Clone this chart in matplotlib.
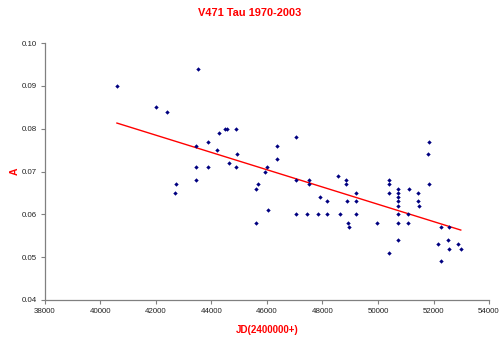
import numpy as np
import matplotlib
matplotlib.use("Agg")
import matplotlib.pyplot as plt

plt.rcParams['font.family'] = ['Liberation Sans', 'DejaVu Sans']

jd = [40595, 42011, 42386, 43514, 43453, 43875, 44188, 44271, 44487, 44570,
      44884, 44920, 44642, 43453, 43875, 43453, 42721, 42700, 44884,
      46350, 46350, 47057, 45929, 45990, 45688, 45616, 46025, 45616,
      47057, 47526, 47526, 47057, 47442, 47827, 48174, 48643, 49220,
      47911, 48174, 48549, 48859, 48859, 48873, 49220, 49220, 48931, 48967,
      51850, 51803, 51850, 50387, 50387, 50387, 50712, 50712, 50712, 50712,
      50712, 50712, 50712, 50712, 51118, 51454, 51454, 51479, 51082, 51082,
      49954, 50387, 52283, 52549, 52535, 52163, 52549, 52885, 52982, 52283]
amp = [0.090, 0.085, 0.084, 0.094, 0.076, 0.077, 0.075, 0.079, 0.080, 0.080,
       0.080, 0.074, 0.072, 0.071, 0.071, 0.068, 0.067, 0.065, 0.071,
       0.076, 0.073, 0.078, 0.070, 0.071, 0.067, 0.066, 0.061, 0.058,
       0.068, 0.068, 0.067, 0.060, 0.060, 0.060, 0.060, 0.060, 0.060,
       0.064, 0.063, 0.069, 0.068, 0.067, 0.063, 0.065, 0.063, 0.058, 0.057,
       0.077, 0.074, 0.067, 0.068, 0.067, 0.065, 0.066, 0.065, 0.064, 0.063,
       0.062, 0.060, 0.058, 0.054, 0.066, 0.065, 0.063, 0.062, 0.060, 0.058,
       0.058, 0.051, 0.057, 0.057, 0.054, 0.053, 0.052, 0.053, 0.052, 0.049]

xticks = [38000, 40000, 42000, 44000, 46000, 48000, 50000, 52000, 54000]
yticks = [0.04, 0.05, 0.06, 0.07, 0.08, 0.09, 0.10]

jd_a = np.array(jd, dtype=float)
amp_a = np.array(amp)
slope, icpt = np.polyfit(jd_a, amp_a, 1)
xl = np.array([jd_a.min(), jd_a.max()])

fig = plt.figure(figsize=(4.99, 3.37), dpi=100)
ax = fig.add_axes([0.090, 0.110, 0.890, 0.762])

ax.scatter(jd, amp, marker='D', s=5, color='#000080', linewidths=0, zorder=3)
ax.plot(xl, slope * xl + icpt, color='#ff0000', lw=1.0, zorder=2)

ax.set_xlim(38000, 54000)
ax.set_ylim(0.04, 0.10)
ax.set_xticks(xticks)
ax.set_xticklabels([str(v) for v in xticks])
ax.set_yticks(yticks)
ax.set_yticklabels([f"{v:.2f}" for v in yticks])
ax.tick_params(labelsize=5.7, length=3, width=0.8, color='#808080',
               labelcolor='#222222', direction='out', pad=3)
for s in ['top', 'right']:
    ax.spines[s].set_visible(False)
for s in ['left', 'bottom']:
    ax.spines[s].set_color('#808080')
    ax.spines[s].set_linewidth(0.9)

fig.text(0.5, 0.962, 'V471 Tau 1970-2003', color='#ff0000', fontsize=7.9,
         fontweight='bold', ha='center', va='center')
ax.set_xlabel('JD(2400000+)', color='#ff0000', fontsize=7, fontweight='bold', labelpad=7)
ax.set_ylabel('A', color='#ff0000', fontsize=7.5, fontweight='bold', labelpad=1.5)

fig.savefig('out.png', dpi=100, facecolor='white')
